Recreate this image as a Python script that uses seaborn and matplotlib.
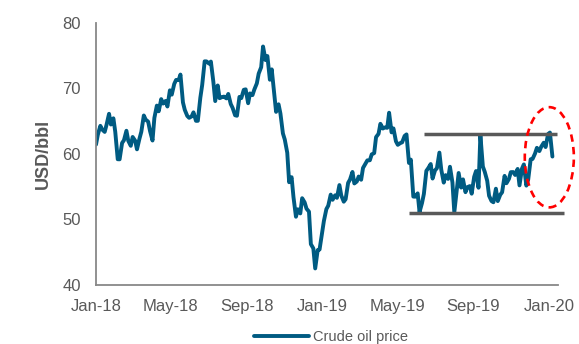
import pandas as pd
import matplotlib
matplotlib.use("Agg")
import matplotlib.pyplot as plt
import matplotlib.dates as mdates
from matplotlib.patches import Ellipse
import seaborn as sns

# ---------------- data ----------------
start_date = "2018-01-01"
prices = [
    # 2018
    61.44, 62.96, 64.30, 63.73, 63.37, 64.47, 66.14, 64.50,
    65.45, 63.39, 59.20, 59.19, 61.68, 62.10, 63.55, 62.01,
    61.25, 62.60, 62.04, 60.71, 62.34, 63.40, 65.88, 65.25, 64.94,
    63.51, 62.06, 65.51, 67.39, 66.52, 68.38, 67.70, 68.10,
    67.25, 69.72, 69.06, 70.70, 71.31, 71.28, 72.13, 67.88, 66.73,
    65.81, 65.52, 65.74, 66.36, 65.06, 65.07, 68.58, 70.53, 74.15,
    74.14, 73.80, 74.11, 71.01, 68.08, 70.46, 68.52, 68.69, 68.76,
    68.49, 69.17, 67.63, 67.04, 65.91, 65.84, 68.72, 68.53, 69.80,
    69.87, 67.75, 69.25, 68.99, 69.85, 70.78, 72.28, 73.25,
    76.41, 74.34, 74.96, 71.34, 72.92, 69.12, 66.43, 67.59, 66.18,
    63.14, 62.21, 60.19, 55.69, 56.46, 53.43, 50.42, 51.56, 50.93,
    53.25, 52.61, 51.65, 51.20, 46.24, 45.59, 42.53, 45.33,
    # 2019
    45.41, 47.96, 49.78, 51.59, 52.11, 53.80, 53.01, 53.69, 53.31,
    55.26, 53.66, 52.72, 53.10, 55.59, 56.09, 57.26, 55.50,
    55.80, 56.56, 56.07, 57.87, 58.52, 59.03, 59.04, 59.94, 60.14,
    62.58, 63.08, 64.61, 63.89, 64.05, 64.00, 66.30, 63.30, 63.91,
    61.94, 61.40, 61.66, 61.78, 62.76, 62.99, 58.63, 59.14, 53.50,
    53.48, 53.99, 51.14, 52.51, 53.90, 57.43, 57.83, 58.47,
    56.25, 57.51, 57.83, 60.21, 57.62, 55.63, 56.77, 56.20, 58.05,
    55.66, 51.09, 54.50, 57.10, 54.87, 56.13, 54.17, 54.93, 55.10,
    53.94, 56.52, 57.40, 54.85, 62.90, 58.09, 57.29, 55.91,
    53.62, 52.81, 52.63, 54.70, 52.81, 53.78, 54.16, 56.66, 55.54,
    56.20, 57.23, 57.24, 56.80, 57.72, 55.21, 57.77, 58.41, 55.17,
    56.10, 59.20, 59.24, 60.07, 60.94, 60.44, 61.11, 61.72, 61.06,
    # 2020
    63.05, 63.27, 59.61,
]
series_label = "Crude oil price"
y_label = "USD/bbl"
y_ticks = [40, 50, 60, 70, 80]
x_tick_months = [1, 5, 9]
resist_start, resist_end, resist_level = "2019-06-14", "2020-01-14", 63.0
support_start, support_end, support_level = "2019-05-20", "2020-01-24", 51.0
circle_center_date, circle_center_val = "2020-01-01", 59.5
circle_width_days, circle_height_val = 79, 15.3

dates = pd.date_range(start_date, periods=len(prices),
                      freq=pd.offsets.CustomBusinessDay(weekmask="Mon Thu"))
df = pd.DataFrame({"date": dates, "price": prices})

# ---------------- style ----------------
sns.set_theme(style="white")
plt.rcParams["font.family"] = ["Liberation Sans", "DejaVu Sans"]

line_color = "#005b82"
grey = "#595959"
axis_grey = "#888888"

fig = plt.figure(figsize=(5.79, 3.44), dpi=100)
ax = fig.add_axes([96 / 579, 1 - 285 / 344, (558 - 96) / 579, (285 - 23) / 344])

sns.lineplot(data=df, x="date", y="price", ax=ax, color=line_color,
             linewidth=2.8, label=series_label, legend=False, zorder=2)

ax.plot([pd.Timestamp(resist_start), pd.Timestamp(resist_end)],
        [resist_level, resist_level], color=grey, lw=2.5,
        solid_capstyle="butt", clip_on=False, zorder=3)
ax.plot([pd.Timestamp(support_start), pd.Timestamp(support_end)],
        [support_level, support_level], color=grey, lw=2.5,
        solid_capstyle="butt", clip_on=False, zorder=3)

ell = Ellipse((mdates.date2num(pd.Timestamp(circle_center_date)), circle_center_val),
              width=circle_width_days, height=circle_height_val, fill=False,
              edgecolor="#ff0000", lw=1.9, linestyle=(0, (2.8, 2.0)),
              clip_on=False, zorder=4)
ax.add_patch(ell)

ax.set_xlim(pd.Timestamp("2018-01-01"), pd.Timestamp("2020-01-15"))
ax.set_ylim(40, 80)
ax.set_yticks(y_ticks)
ax.xaxis.set_major_locator(mdates.MonthLocator(bymonth=x_tick_months))
ax.xaxis.set_major_formatter(mdates.DateFormatter("%b-%y"))

sns.despine(ax=ax)
for s in ["left", "bottom"]:
    ax.spines[s].set_color(axis_grey)
    ax.spines[s].set_linewidth(1.3)
ax.tick_params(axis="both", direction="out", length=4, width=1.2,
               color=axis_grey, labelsize=12, labelcolor=grey, pad=6)
ax.tick_params(axis="y", pad=7)
ax.set_xlabel("")
ax.set_ylabel(y_label, fontsize=13, fontweight="bold", color=grey)
ax.yaxis.set_label_coords(-0.095, 0.5)

handles, labels = ax.get_legend_handles_labels()
fig.legend(handles, labels, loc="center", bbox_to_anchor=(331 / 579, 1 - 337.5 / 344),
           frameon=False, fontsize=10.5, handlelength=3.8, handletextpad=0.3,
           labelcolor=grey, borderpad=0)

fig.savefig("out.png", dpi=100)
